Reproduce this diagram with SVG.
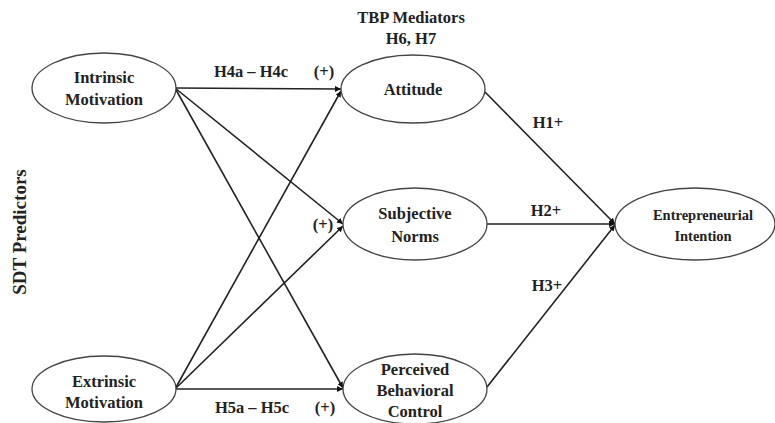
<svg xmlns="http://www.w3.org/2000/svg" width="775" height="423" viewBox="0 0 775 423">
<style>
.node ellipse{fill:#fff;stroke:#444;stroke-width:1.3}
text{font-family:"Liberation Serif","Times New Roman",serif;font-weight:bold;fill:#222;text-anchor:middle}
.t{font-size:16.5px}
.s{font-size:14.5px}
.c line{stroke:#222;stroke-width:1.6}
</style>
<defs>
<marker id="ah" viewBox="0 0 10 10" refX="10" refY="5" markerWidth="6" markerHeight="6" orient="auto" markerUnits="userSpaceOnUse">
<path d="M0,0 L10,5 L0,10 z" fill="#111"/>
</marker>
</defs>
<rect width="775" height="423" fill="#fff"/>
<g class="c">
<line x1="175" y1="88" x2="341" y2="89" stroke-width="2" marker-end="url(#ah)"/>
<line x1="175" y1="88" x2="343" y2="224" marker-end="url(#ah)"/>
<line x1="175" y1="88" x2="343" y2="388" marker-end="url(#ah)"/>
<line x1="175" y1="389" x2="341" y2="91" marker-end="url(#ah)"/>
<line x1="175" y1="389" x2="343" y2="226" marker-end="url(#ah)"/>
<line x1="175" y1="389" x2="343" y2="389" stroke-width="2" marker-end="url(#ah)"/>
<line x1="485" y1="92" x2="615" y2="224" marker-end="url(#ah)"/>
<line x1="487" y1="224" x2="615" y2="224" marker-end="url(#ah)"/>
<line x1="487" y1="387" x2="615" y2="225" marker-end="url(#ah)"/>
</g>
<g id="intrinsic" class="node"><ellipse cx="104" cy="88" rx="72" ry="35"/><text class="t" x="104" y="83">Intrinsic</text><text class="t" x="104" y="105">Motivation</text></g>
<g id="extrinsic" class="node"><ellipse cx="104" cy="389" rx="72" ry="33"/><text class="t" x="104" y="387">Extrinsic</text><text class="t" x="104" y="408">Motivation</text></g>
<g id="attitude" class="node"><ellipse cx="413" cy="89" rx="72" ry="34"/><text class="t" x="413" y="95">Attitude</text></g>
<g id="sn" class="node"><ellipse cx="415" cy="224" rx="72" ry="36"/><text class="t" x="415" y="219">Subjective</text><text class="t" x="415" y="242">Norms</text></g>
<g id="pbc" class="node"><ellipse cx="415" cy="389" rx="72" ry="35"/><text class="t" x="415" y="375">Perceived</text><text class="t" x="415" y="396">Behavioral</text><text class="t" x="415" y="417">Control</text></g>
<g id="ei" class="node"><ellipse cx="695" cy="224" rx="80" ry="36"/><text class="s" x="703" y="220">Entrepreneurial</text><text class="s" x="703" y="241">Intention</text></g>
<g id="labels">
<text class="t" x="411" y="23">TBP Mediators</text>
<text class="t" x="411" y="44">H6, H7</text>
<text class="t" x="251" y="77">H4a – H4c</text>
<text class="t" x="324" y="77">(+)</text>
<text class="t" x="323" y="230">(+)</text>
<text class="t" x="325" y="413">(+)</text>
<text class="t" x="252" y="413">H5a – H5c</text>
<text class="t" x="548" y="128">H1+</text>
<text class="t" x="546" y="216">H2+</text>
<text class="t" x="547" y="291">H3+</text>
<text class="t" style="font-size:19px" transform="translate(26,232) rotate(-90)">SDT Predictors</text>
</g>
</svg>
